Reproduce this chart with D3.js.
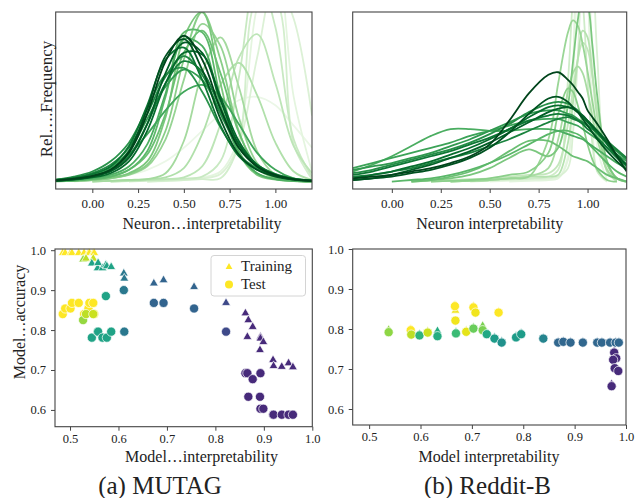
<!DOCTYPE html>
<html>
<head>
<meta charset="utf-8">
<script src="https://cdn.jsdelivr.net/npm/d3@7"></script>
<style>
body { margin: 0; background: #fff; }
svg text { font-family: "Liberation Serif", "Times New Roman", serif; fill: #222; }
</style>
</head>
<body>
<div id="chart"></div>
<script>
// tick labels
const densityTicks = [0, 0.25, 0.5, 0.75, 1.0];
const scatterXTicks = [0.5, 0.6, 0.7, 0.8, 0.9, 1.0];
const scatterYTicks = [0.6, 0.7, 0.8, 0.9, 1.0];

// MUTAG neuron interpretability densities (light -> dark)
const mutagGrid = [-0.2, -0.1, 0, 0.1, 0.2, 0.3, 0.4, 0.5, 0.6, 0.7, 0.8, 0.9, 1.0, 1.1, 1.2];
const mutagCurves = [
    [null, 0.0, 0.01, 0.02, 0.04, 0.07, 0.12, 0.2, 0.3, 0.4, 0.48, 0.5, 0.45, 0.33, 0.2],
    [null, null, null, null, null, 0.0, 0.004, 0.01, 0.025, 0.06, 0.26, 1.03, 1.32, 0.5, 0.06],
    [null, null, null, null, 0.0, 0.005, 0.01, 0.015, 0.02, 0.045, 0.22, 0.73, 1.18, 0.96, 0.39],
    [null, null, null, null, null, 0.0, 0.005, 0.01, 0.015, 0.02, 0.22, 1.07, 1.07, 0.22, 0.015],
    [null, null, null, 0.0, 0.004, 0.008, 0.012, 0.018, 0.03, 0.12, 0.61, 1.23, 0.91, 0.25, 0.03],
    [null, null, null, 0.0, 0.005, 0.01, 0.015, 0.025, 0.09, 0.34, 0.73, 0.87, 0.58, 0.21, 0.05],
    [null, null, 0.0, 0.005, 0.01, 0.015, 0.025, 0.08, 0.28, 0.57, 0.7, 0.51, 0.23, 0.06, 0.01],
    [null, null, 0.0, 0.005, 0.01, 0.015, 0.05, 0.24, 0.64, 0.85, 0.56, 0.18, 0.04, 0.01, 0.0],
    [0.002, 0.005, 0.01, 0.02, 0.04, 0.09, 0.25, 0.6, 0.93, 0.8, 0.38, 0.11, 0.03, 0.008, 0.002],
    [0.002, 0.005, 0.01, 0.02, 0.045, 0.1, 0.3, 0.72, 1.0, 0.72, 0.3, 0.08, 0.02, 0.005, 0.002],
    [0.003, 0.006, 0.012, 0.025, 0.05, 0.12, 0.38, 0.85, 1.0, 0.58, 0.17, 0.04, 0.012, 0.004, 0.001],
    [0.003, 0.007, 0.015, 0.03, 0.07, 0.16, 0.4, 0.76, 0.89, 0.64, 0.29, 0.09, 0.025, 0.007, 0.002],
    [0.003, 0.007, 0.015, 0.03, 0.07, 0.18, 0.5, 0.88, 0.88, 0.5, 0.18, 0.05, 0.015, 0.005, 0.002],
    [0.004, 0.009, 0.02, 0.04, 0.09, 0.22, 0.52, 0.84, 0.8, 0.45, 0.17, 0.05, 0.015, 0.005, 0.002],
    [0.01, 0.02, 0.04, 0.08, 0.16, 0.28, 0.42, 0.53, 0.57, 0.5, 0.34, 0.17, 0.07, 0.02, 0.01],
    [0.008, 0.02, 0.04, 0.085, 0.18, 0.37, 0.56, 0.66, 0.6, 0.41, 0.22, 0.1, 0.045, 0.018, 0.006],
    [0.012, 0.03, 0.06, 0.12, 0.23, 0.43, 0.63, 0.67, 0.53, 0.32, 0.16, 0.08, 0.04, 0.015, 0.006],
    [0.01, 0.025, 0.05, 0.1, 0.2, 0.4, 0.62, 0.74, 0.63, 0.4, 0.2, 0.09, 0.04, 0.015, 0.006],
    [0.006, 0.015, 0.03, 0.065, 0.15, 0.34, 0.58, 0.71, 0.65, 0.43, 0.22, 0.1, 0.045, 0.018, 0.006],
    [0.01, 0.022, 0.045, 0.09, 0.21, 0.45, 0.72, 0.79, 0.6, 0.33, 0.15, 0.07, 0.035, 0.015, 0.006],
    [0.005, 0.012, 0.025, 0.05, 0.12, 0.3, 0.58, 0.76, 0.75, 0.5, 0.24, 0.1, 0.04, 0.015, 0.005],
    [0.006, 0.014, 0.03, 0.06, 0.14, 0.34, 0.64, 0.82, 0.76, 0.48, 0.22, 0.09, 0.035, 0.012, 0.004],
    [0.007, 0.016, 0.032, 0.07, 0.18, 0.43, 0.74, 0.84, 0.66, 0.37, 0.16, 0.07, 0.03, 0.012, 0.004],
    [0.008, 0.018, 0.035, 0.07, 0.17, 0.4, 0.71, 0.86, 0.72, 0.43, 0.2, 0.09, 0.04, 0.015, 0.005]
];

// Reddit-B neuron interpretability densities (light -> dark)
const redditGrid = [-0.2, -0.1, 0, 0.1, 0.2, 0.3, 0.4, 0.5, 0.6, 0.7, 0.8, 0.85, 0.9, 0.925, 0.95, 0.975, 1.0, 1.025, 1.05, 1.1, 1.15, 1.2];
const redditCurves = [
    [null, null, null, null, null, null, null, 0.0, 0.005, 0.01, 0.015, 0.02, 0.15, 0.55, 1.3, 1.78, 1.45, 0.7, 0.2, 0.01, null, null],
    [null, null, null, null, null, null, null, null, 0.0, 0.005, 0.01, 0.02, 0.13, 0.65, 1.6, 1.97, 1.21, 0.37, 0.06, 0.0, null, null],
    [null, null, null, null, null, null, 0.0, 0.005, 0.01, 0.015, 0.02, 0.03, 0.08, 0.28, 0.73, 1.32, 1.6, 1.32, 0.73, 0.07, 0.0, null],
    [null, null, null, null, null, 0.0, 0.005, 0.01, 0.015, 0.02, 0.03, 0.07, 0.6, 1.07, 1.3, 1.07, 0.6, 0.22, 0.06, 0.005, null, null],
    [null, null, null, 0.0, 0.005, 0.01, 0.015, 0.02, 0.03, 0.04, 0.05, 0.1, 0.34, 0.54, 0.72, 0.82, 0.78, 0.62, 0.42, 0.11, 0.02, 0.0],
    [null, null, null, null, 0.0, 0.005, 0.01, 0.015, 0.02, 0.03, 0.03, 0.04, 0.23, 0.46, 0.72, 0.89, 0.85, 0.63, 0.37, 0.06, 0.005, null],
    [null, null, null, null, null, 0.0, 0.005, 0.01, 0.02, 0.03, 0.08, 0.25, 0.53, 0.64, 0.68, 0.64, 0.53, 0.38, 0.25, 0.07, 0.01, null],
    [null, null, null, null, null, 0.0, 0.005, 0.01, 0.02, 0.03, 0.25, 0.58, 0.88, 0.95, 0.92, 0.81, 0.65, 0.47, 0.31, 0.1, 0.02, 0.0],
    [null, null, null, null, 0.0, 0.005, 0.01, 0.02, 0.04, 0.06, 0.17, 0.4, 0.55, 0.53, 0.45, 0.34, 0.22, 0.13, 0.07, 0.01, 0.0, null],
    [null, null, null, 0.0, 0.01, 0.02, 0.04, 0.08, 0.14, 0.19, 0.15, 0.2, 0.45, 0.7, 0.95, 1.1, 1.05, 0.8, 0.5, 0.12, 0.02, 0.0],
    [null, null, null, 0.0, 0.01, 0.03, 0.06, 0.11, 0.18, 0.24, 0.24, 0.21, 0.17, 0.15, 0.14, 0.13, 0.12, 0.1, 0.08, 0.04, 0.02, 0.0],
    [null, null, 0.0, 0.01, 0.02, 0.04, 0.07, 0.11, 0.16, 0.22, 0.28, 0.3, 0.3, 0.29, 0.28, 0.26, 0.23, 0.2, 0.17, 0.11, 0.06, 0.03],
    [0.06, 0.1, 0.15, 0.21, 0.27, 0.31, 0.31, 0.3, 0.3, 0.31, 0.31, 0.3, 0.28, 0.27, 0.26, 0.25, 0.23, 0.21, 0.19, 0.15, 0.11, 0.08],
    [0.08, 0.11, 0.14, 0.17, 0.2, 0.23, 0.27, 0.3, 0.33, 0.36, 0.37, 0.37, 0.35, 0.34, 0.33, 0.31, 0.29, 0.27, 0.25, 0.2, 0.16, 0.12],
    [0.07, 0.09, 0.11, 0.14, 0.17, 0.21, 0.25, 0.3, 0.35, 0.4, 0.42, 0.42, 0.4, 0.39, 0.37, 0.35, 0.33, 0.31, 0.28, 0.23, 0.18, 0.14],
    [0.05, 0.07, 0.1, 0.13, 0.16, 0.19, 0.23, 0.28, 0.34, 0.41, 0.46, 0.47, 0.46, 0.44, 0.42, 0.39, 0.36, 0.33, 0.3, 0.24, 0.18, 0.13],
    [0.03, 0.04, 0.06, 0.08, 0.11, 0.14, 0.17, 0.21, 0.25, 0.3, 0.35, 0.37, 0.38, 0.37, 0.36, 0.35, 0.33, 0.31, 0.29, 0.24, 0.19, 0.14],
    [0.04, 0.06, 0.09, 0.12, 0.15, 0.18, 0.22, 0.26, 0.31, 0.36, 0.39, 0.4, 0.39, 0.38, 0.36, 0.34, 0.31, 0.29, 0.26, 0.2, 0.14, 0.09],
    [0.02, 0.04, 0.06, 0.09, 0.12, 0.16, 0.2, 0.25, 0.31, 0.38, 0.44, 0.45, 0.44, 0.43, 0.41, 0.38, 0.35, 0.32, 0.29, 0.22, 0.15, 0.1],
    [0.01, 0.02, 0.04, 0.07, 0.1, 0.14, 0.18, 0.23, 0.29, 0.35, 0.41, 0.43, 0.44, 0.43, 0.41, 0.39, 0.36, 0.33, 0.3, 0.23, 0.16, 0.1],
    [0.01, 0.02, 0.03, 0.05, 0.07, 0.1, 0.14, 0.2, 0.29, 0.4, 0.49, 0.5, 0.47, 0.44, 0.41, 0.37, 0.33, 0.29, 0.25, 0.18, 0.12, 0.07],
    [0.02, 0.03, 0.04, 0.06, 0.08, 0.11, 0.15, 0.22, 0.36, 0.52, 0.63, 0.645, 0.6, 0.57, 0.53, 0.49, 0.42, 0.38, 0.34, 0.25, 0.15, 0.06]
];

// MUTAG models: interpretability, training acc, test acc, colour level
const mutagInterp = [0.485, 0.490, 0.501, 0.504, 0.518, 0.529, 0.538, 0.540, 0.548, 0.550,
    0.527, 0.533, 0.548,
    0.545, 0.557, 0.558, 0.567, 0.574, 0.576, 0.585,
    0.611, 0.612, 0.673, 0.693, 0.756, 0.822,
    0.862, 0.866, 0.868, 0.877, 0.892, 0.893, 0.893, 0.899, 0.919, 0.920, 0.937, 0.951, 0.960];
const mutagTrain = [0.993, 0.993, 0.993, 0.993, 0.993, 0.993, 0.993, 0.993, 0.993, 0.993,
    0.977, 0.979, 0.979,
    0.967, 0.955, 0.968, 0.955, 0.963, 0.960, 0.958,
    0.942, 0.929, 0.917, 0.925, 0.908, 0.868,
    0.842, 0.783, 0.825, 0.808, 0.750, 0.783, 0.779, 0.770, 0.725, 0.710, 0.708, 0.717, 0.707];
const mutagTest = [0.840, 0.854, 0.854, 0.868, 0.868, 0.840, 0.854, 0.868, 0.868, 0.840,
    0.825, 0.840, 0.840,
    0.781, 0.796, 0.796, 0.781, 0.885, 0.781, 0.796,
    0.900, 0.796, 0.868, 0.868, 0.854, 0.796,
    0.692, 0.692, 0.633, 0.677, 0.633, 0.692, 0.603, 0.603, 0.588, 0.588, 0.588, 0.588, 0.588];
const mutagLevel = [1, 1, 1, 1, 1, 1, 1, 1, 1, 1,
    0.84, 0.9, 0.92,
    0.58, 0.58, 0.58, 0.58, 0.58, 0.58, 0.58,
    0.4, 0.4, 0.32, 0.32, 0.32, 0.22,
    0.12, 0.12, 0.12, 0.12, 0.12, 0.12, 0.12, 0.12, 0.12, 0.12, 0.12, 0.12, 0.12];

// Reddit-B models
const redditInterp = [0.538, 0.581, 0.582, 0.598, 0.614, 0.633, 0.667, 0.668, 0.669, 0.689,
    0.703, 0.707, 0.703, 0.721, 0.729, 0.744, 0.752, 0.758, 0.786, 0.796,
    0.839, 0.868, 0.878, 0.892, 0.916, 0.944, 0.953, 0.969, 0.980, 0.986,
    0.977, 0.981, 0.975, 0.978, 0.985, 0.972];
const redditTrain = [0.798, 0.800, 0.789, 0.787, 0.794, 0.795, 0.860, 0.846, 0.792, 0.796,
    0.857, 0.843, 0.804, 0.808, 0.790, 0.779, 0.843, 0.769, 0.782, 0.790,
    0.778, 0.768, 0.770, 0.768, 0.768, 0.768, 0.768, 0.768, 0.768, 0.768,
    0.745, 0.731, 0.726, 0.705, 0.698, 0.662];
const redditTest = [0.792, 0.797, 0.786, 0.784, 0.791, 0.782, 0.857, 0.821, 0.789, 0.793,
    0.854, 0.841, 0.801, 0.797, 0.787, 0.776, 0.841, 0.766, 0.779, 0.787,
    0.776, 0.766, 0.768, 0.766, 0.766, 0.766, 0.766, 0.766, 0.766, 0.766,
    0.741, 0.727, 0.723, 0.702, 0.695, 0.657];
const redditLevel = [0.83, 1, 0.9, 0.65, 0.92, 0.62, 1, 0.98, 0.68, 0.96,
    1, 0.98, 0.77, 0.8, 0.6, 0.55, 1, 0.5, 0.55, 0.55,
    0.45, 0.33, 0.33, 0.33, 0.33, 0.33, 0.33, 0.33, 0.33, 0.33,
    0.12, 0.12, 0.12, 0.12, 0.12, 0.12];

const legendLabels = ['Training', 'Test'];

const svg = d3.select('#chart')
    .append('svg')
    .attr('width', 636)
    .attr('height', 498)
    .attr('font-family', '"Liberation Serif", serif');

const defs = svg.append('defs');
const frameColor = '#444';

function frame(box, id) {
    defs.append('clipPath').attr('id', id)
        .append('rect')
        .attr('x', box.x0).attr('y', box.y0)
        .attr('width', box.x1 - box.x0).attr('height', box.y1 - box.y0);
}

function styleAxis(g, size) {
    g.attr('font-family', null);
    g.select('.domain').remove();
    g.selectAll('.tick line').attr('stroke', frameColor).attr('stroke-width', 1);
    g.selectAll('.tick text')
        .attr('font-size', size)
        .attr('fill', '#333');
}

function drawBorder(box) {
    svg.append('rect')
        .attr('x', box.x0).attr('y', box.y0)
        .attr('width', box.x1 - box.x0).attr('height', box.y1 - box.y0)
        .attr('fill', 'none')
        .attr('stroke', frameColor)
        .attr('stroke-width', 1.1);
}

function densityPanel(box, id, grid, curves) {
    frame(box, id);

    const x = d3.scaleLinear().domain([-0.2, 1.2]).range([box.x0, box.x1]);
    const y = d3.scaleLinear().domain([-0.043, 1]).range([box.y1, box.y0]);

    const color = d3.scaleSequential(d3.interpolateGreens).domain([-2, curves.length - 1]);

    const line = d3.line()
        .defined(d => d[1] != null)
        .x(d => x(d[0]))
        .y(d => y(d[1]))
        .curve(d3.curveCatmullRom.alpha(0.5));

    svg.append('g')
        .attr('clip-path', `url(#${id})`)
        .selectAll('path')
        .data(curves)
        .join('path')
        .attr('fill', 'none')
        .attr('stroke', (d, i) => color(i))
        .attr('stroke-width', 1.8)
        .attr('d', d => line(d.map((v, j) => [grid[j], v])));

    svg.append('g')
        .attr('transform', `translate(0, ${box.y1})`)
        .call(d3.axisBottom(x).tickValues(densityTicks).tickFormat(d3.format('.2f')).tickSize(4).tickPadding(6))
        .call(g => styleAxis(g, 13));

    drawBorder(box);
}

function scatterPanel(box, xDomain, yDomain, interp, train, test, level) {
    const x = d3.scaleLinear().domain(xDomain).range([box.x0, box.x1]);
    const y = d3.scaleLinear().domain(yDomain).range([box.y1, box.y0]);
    const color = d3.scaleSequential(d3.interpolateViridis).domain([0, 1]);

    const models = interp.map((v, i) => ({ x: v, train: train[i], test: test[i], level: level[i] }));

    const tri = d3.symbol(d3.symbolTriangle, 34);

    svg.append('g')
        .selectAll('path')
        .data(models)
        .join('path')
        .attr('d', tri)
        .attr('transform', d => `translate(${x(d.x)}, ${y(d.train)})`)
        .attr('fill', d => color(d.level))
        .attr('stroke', '#fff')
        .attr('stroke-width', 0.7);

    svg.append('g')
        .selectAll('circle')
        .data(models)
        .join('circle')
        .attr('cx', d => x(d.x))
        .attr('cy', d => y(d.test))
        .attr('r', 4.6)
        .attr('fill', d => color(d.level))
        .attr('stroke', '#fff')
        .attr('stroke-width', 0.7);

    svg.append('g')
        .attr('transform', `translate(0, ${box.y1})`)
        .call(d3.axisBottom(x).tickValues(scatterXTicks).tickFormat(d3.format('.1f')).tickSize(4).tickPadding(3))
        .call(g => styleAxis(g, 12.5));

    svg.append('g')
        .attr('transform', `translate(${box.x0}, 0)`)
        .call(d3.axisLeft(y).tickValues(scatterYTicks).tickFormat(d3.format('.1f')).tickSize(4).tickPadding(5))
        .call(g => styleAxis(g, 12.5));

    drawBorder(box);
}

function label(text, x, y, size, rotate) {
    svg.append('text')
        .attr('transform', `translate(${x}, ${y})` + (rotate ? ' rotate(-90)' : ''))
        .attr('text-anchor', 'middle')
        .attr('font-size', size)
        .text(text);
}

const boxTL = { x0: 55.7, x1: 312, y0: 12, y1: 189 };
const boxTR = { x0: 352.7, x1: 626.7, y0: 12, y1: 189 };
const boxBL = { x0: 55, x1: 312.3, y0: 249, y1: 426.7 };
const boxBR = { x0: 352.7, x1: 626, y0: 249, y1: 425 };

densityPanel(boxTL, 'clip-mutag', mutagGrid, mutagCurves);
densityPanel(boxTR, 'clip-reddit', redditGrid, redditCurves);

scatterPanel(boxBL, [0.469, 1.0], [0.558, 1.003], mutagInterp, mutagTrain, mutagTest, mutagLevel);
scatterPanel(boxBR, [0.468, 1.0], [0.56, 1.0], redditInterp, redditTrain, redditTest, redditLevel);

// legend
const legend = svg.append('g');
legend.append('rect')
    .attr('x', 211).attr('y', 255.5)
    .attr('width', 94.5).attr('height', 40.5)
    .attr('rx', 3)
    .attr('fill', '#fff').attr('fill-opacity', 0.85)
    .attr('stroke', '#d4d4d4');
legend.append('path')
    .attr('d', d3.symbol(d3.symbolTriangle, 20)())
    .attr('transform', 'translate(229, 267)')
    .attr('fill', d3.interpolateViridis(1));
legend.append('circle')
    .attr('cx', 229).attr('cy', 284.5).attr('r', 4)
    .attr('fill', d3.interpolateViridis(1));
legend.selectAll('text')
    .data(legendLabels)
    .join('text')
    .attr('x', 241)
    .attr('y', (d, i) => 271 + i * 17.5)
    .attr('font-size', 15)
    .text(d => d);

// axis labels
label('Neuron…interpretability', 202, 228.5, 16);
label('Neuron interpretability', 489.7, 228.5, 16);
label('Rel….Frequency', 52, 99, 17, true);
label('Model…interpretability', 201.5, 461.5, 16);
label('Model interpretability', 489, 461.5, 16);
label('Model…accuracy', 25, 322, 16, true);

// captions
label('(a) MUTAG', 160, 494, 25);
label('(b) Reddit-B', 487.5, 494, 25);
</script>
</body>
</html>
